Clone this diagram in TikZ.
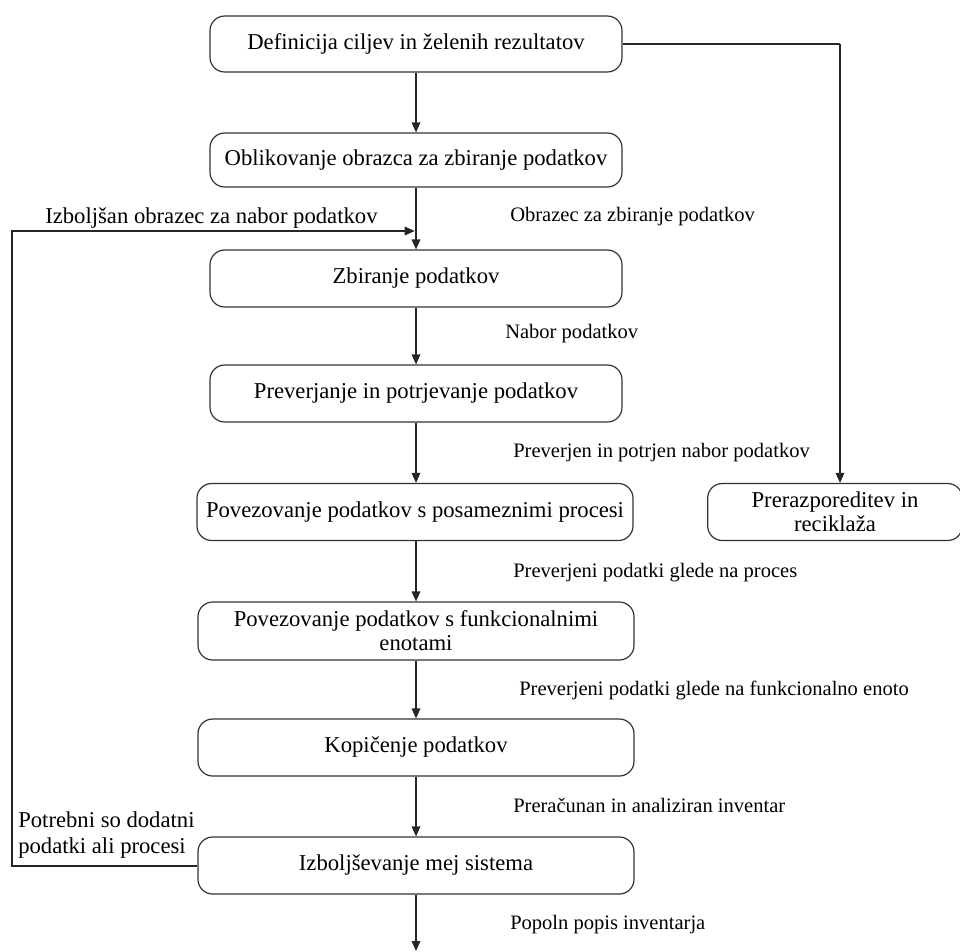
\documentclass[tikz,border=0pt]{standalone}
\usepackage{fontspec}
\setmainfont{Liberation Serif}
\usetikzlibrary{arrows.meta}
\tikzset{
  px/.style={x=0.75pt,y=-0.75pt},
  stepbox/.style={draw=black!80, line width=0.9pt, rounded corners=11pt, align=center,
    inner sep=0pt, font=\fontsize{17}{18}\selectfont},
  lbl/.style={font=\fontsize{15.4}{18}\selectfont, inner sep=0pt, anchor=west},
  biglbl/.style={font=\fontsize{17}{19}\selectfont, inner sep=0pt},
  conn/.style={draw=black!85, line width=0.9pt},
  arr/.style={conn, -{Triangle[length=7.5pt,width=6.5pt]}},
}
\begin{document}
\begin{tikzpicture}[px]
\useasboundingbox (0,0) rectangle (960,951);
\clip (0,0) rectangle (960,951);
\node[stepbox, minimum width=309pt, minimum height=42pt] (b1) at (416,44) {Definicija ciljev in želenih rezultatov};
\node[stepbox, minimum width=309pt, minimum height=40.5pt] (b2) at (416,160) {Oblikovanje obrazca za zbiranje podatkov};
\node[stepbox, minimum width=309pt, minimum height=42.75pt] (b3) at (416,278.5) {Zbiranje podatkov};
\node[stepbox, minimum width=309pt, minimum height=42.75pt] (b4) at (416,393.5) {Preverjanje in potrjevanje podatkov};
\node[stepbox, minimum width=327pt, minimum height=42.75pt] (b5) at (415,512) {Povezovanje podatkov s posameznimi procesi};
\node[stepbox, minimum width=327pt, minimum height=43.5pt] (b6) at (416,631) {Povezovanje podatkov s funkcionalnimi\\enotami};
\node[stepbox, minimum width=327pt, minimum height=42.75pt] (b7) at (416,747.5) {Kopičenje podatkov};
\node[stepbox, minimum width=327pt, minimum height=42.75pt] (b8) at (416,865.5) {Izboljševanje mej sistema};
\node[stepbox, minimum width=191pt, minimum height=42.75pt] (b9) at (835,512) {Prerazporeditev in\\reciklaža};

\coordinate (join) at (416,231);
\coordinate (lt) at (12,231);
\coordinate (lb) at (12,866);
\coordinate (rt) at (840,44);
\coordinate (bot) at (416,951);

\draw[arr] (b1) -- (b2);
\draw[arr] (b2) -- (b3);
\draw[arr] (b3) -- (b4);
\draw[arr] (b4) -- (b5.north -| b4);
\draw[arr] (b5.south -| b4) -- (b6);
\draw[arr] (b6) -- (b7);
\draw[arr] (b7) -- (b8);
\draw[arr] (b8) -- (bot);
\draw[conn] (b1.east) -- (rt);
\draw[arr] (rt) -- (rt |- b9.north);
\draw[arr] (b8.west |- lb) -- (lb) -- (lt) -- ([xshift=-1pt]join);

\node[biglbl, anchor=west] (l0) at (45,218) {Izboljšan obrazec za nabor podatkov};
\node[biglbl, anchor=west, align=left] (l00) at (18,835) {Potrebni so dodatni\\podatki ali procesi};
\node[lbl] (l1) at (510,217) {Obrazec za zbiranje podatkov};
\node[lbl] (l2) at (505,334) {Nabor podatkov};
\node[lbl] (l3) at (513,453) {Preverjen in potrjen nabor podatkov};
\node[lbl] (l4) at (513,573) {Preverjeni podatki glede na proces};
\node[lbl] (l5) at (519,690) {Preverjeni podatki glede na funkcionalno enoto};
\node[lbl] (l6) at (513,805) {Preračunan in analiziran inventar};
\node[lbl] (l7) at (510,925) {Popoln popis inventarja};
\end{tikzpicture}
\end{document}
